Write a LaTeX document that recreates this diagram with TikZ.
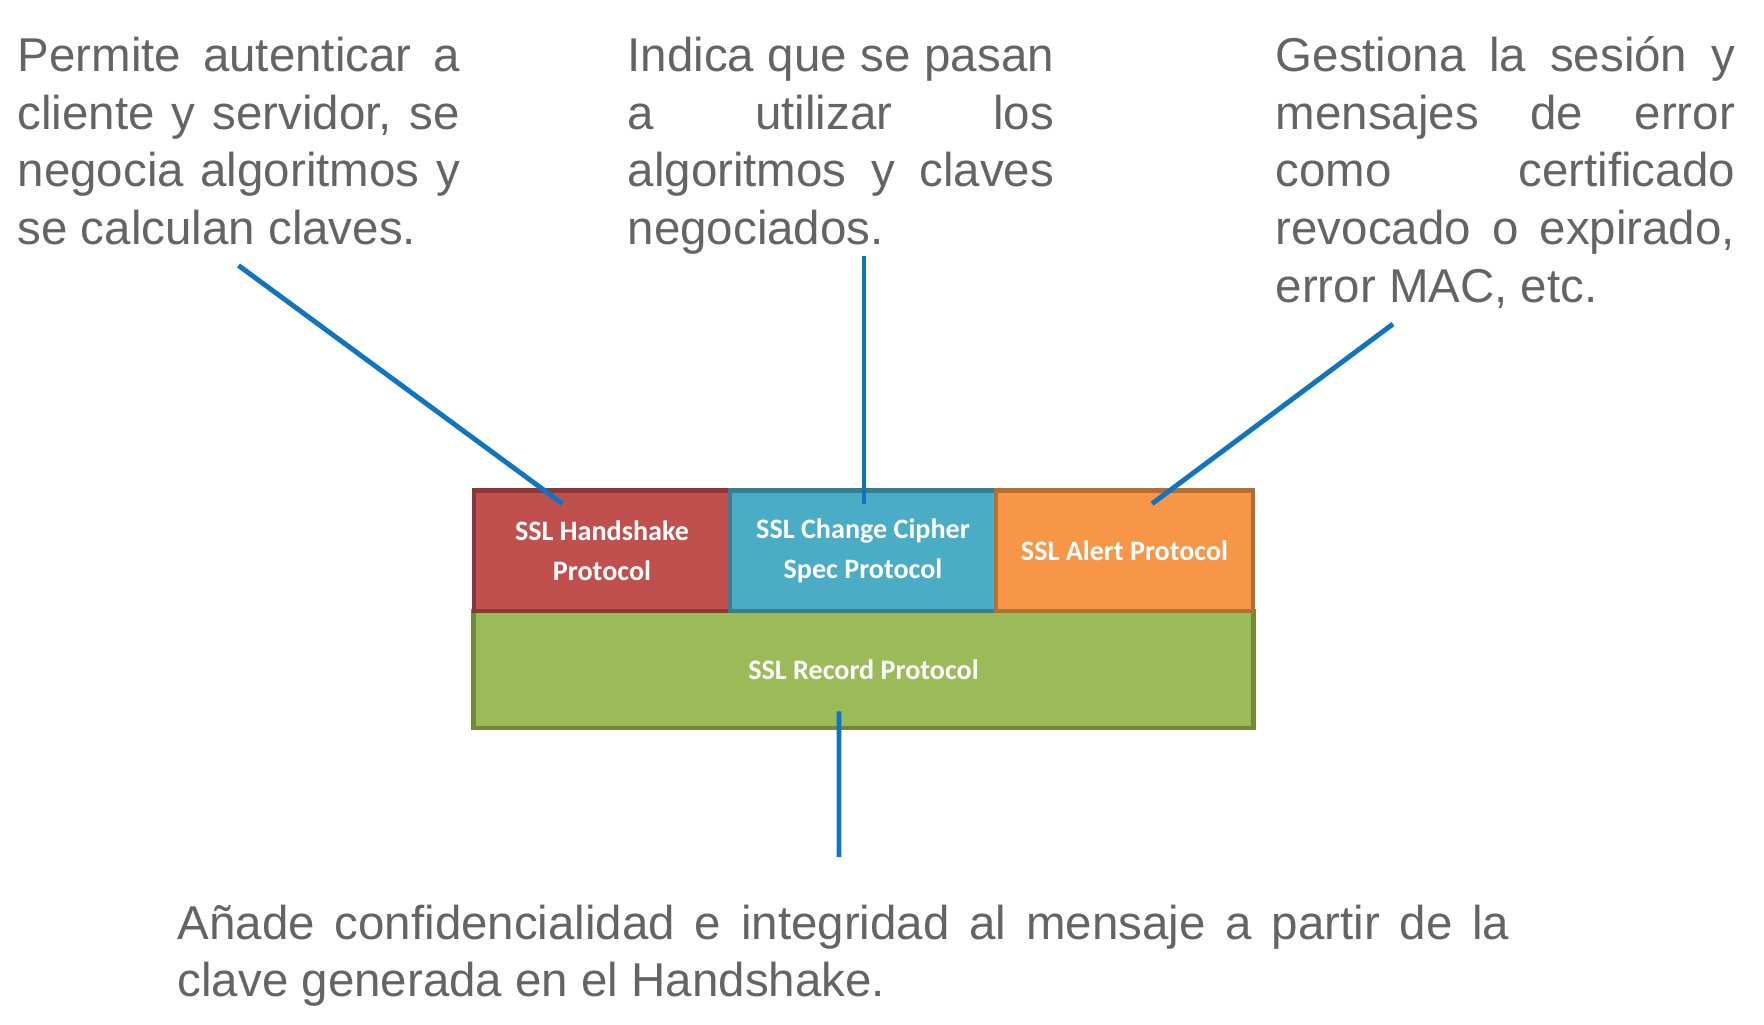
\documentclass[tikz,border=0pt]{standalone}
\usepackage{fontspec}
\setmainfont{Liberation Sans}
\newfontfamily\boxfont{Carlito}
\hyphenpenalty=10000

\definecolor{gristexto}{HTML}{646464}
\definecolor{azul}{HTML}{1074C1}
\definecolor{rojo}{HTML}{C0504D}
\definecolor{rojoborde}{HTML}{8C3836}
\definecolor{cian}{HTML}{4BACC6}
\definecolor{cianborde}{HTML}{357D91}
\definecolor{naranja}{HTML}{F79646}
\definecolor{naranjaborde}{HTML}{B66D31}
\definecolor{verde}{HTML}{9BBB59}
\definecolor{verdeborde}{HTML}{71893F}

\tikzset{
  texto/.style={anchor=base west, inner sep=0pt, align=justify, text=gristexto,
    font=\fontsize{13.5pt}{16.4pt}\selectfont},
  capa/.style={draw, line width=1.3pt, inner sep=0pt, align=center, text=white,
    font=\boxfont\bfseries\fontsize{8pt}{11.5pt}\selectfont},
  conector/.style={draw=azul, line width=1.4pt}
}

\begin{document}
\begin{tikzpicture}[x=0.01cm,y=-0.01cm]
		\useasboundingbox (0,0) rectangle (1764,1025);
		
		% Protocol stack
		\node[capa, fill=verde, draw=verdeborde, minimum width=7.79cm, minimum height=1.17cm] (registro) at (863.5,669.5) {SSL Record Protocol};
		\node[capa, fill=rojo, draw=rojoborde, minimum width=2.56cm, minimum height=1.205cm] (hand) at (602,550.8) {SSL Handshake\\Protocol};
		\node[capa, fill=cian, draw=cianborde, minimum width=2.66cm, minimum height=1.205cm] (cambio) at (863,550.8) {SSL Change Cipher\\Spec Protocol};
		\node[capa, fill=naranja, draw=naranjaborde, minimum width=2.57cm, minimum height=1.205cm] (alerta) at (1124.5,550.8) {SSL Alert Protocol};
		
		% Descriptions
		\node[texto, text width=4.42cm] (tHand) at (17,71.5) {Permite autenticar a\linebreak cliente y servidor, se\linebreak negocia algoritmos y\linebreak se calculan claves.};
		\node[texto, text width=4.26cm] (tCambio) at (627,71.5) {Indica que se pasan\linebreak a utilizar los\linebreak algoritmos y claves\linebreak negociados.};
		\node[texto, text width=4.59cm] (tAlerta) at (1275,71.5) {Gestiona la sesión y\linebreak mensajes de error\linebreak como certificado\linebreak revocado o expirado,\linebreak error MAC, etc.};
		\node[texto, text width=13.31cm] (tRegistro) at (177,939) {Añade confidencialidad e integridad al mensaje a partir de la\linebreak clave generada en el Handshake.};
		
		% Free ends of the connectors
		\coordinate (cHand) at (238.5,265.5);
		\coordinate (cCambio) at (864,256.5);
		\coordinate (cAlerta) at (1393,324);
		\coordinate (cRegistro) at (839,857);
		
		% Connectors
		\draw[conector] (cHand) -- ([xshift=-0.395cm,yshift=-0.155cm]hand.north);
		\draw[conector] (cCambio) -- ([xshift=0.01cm,yshift=-0.155cm]cambio.north);
		\draw[conector] (cAlerta) -- ([xshift=0.275cm,yshift=-0.155cm]alerta.north);
		\draw[conector] (cRegistro) -- ([xshift=-0.245cm,yshift=0.19cm]registro.south);
		
		\end{tikzpicture}
\end{document}
